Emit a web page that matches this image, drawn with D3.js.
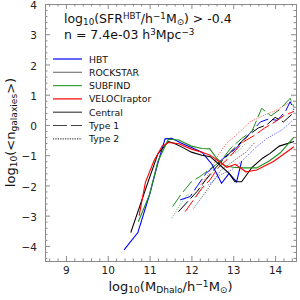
<!DOCTYPE html>
<html lang="en">
<head>
<meta charset="utf-8">
<script src="https://d3js.org/d3.v7.min.js"></script>
<title>HOD</title>
<style>
    body { margin: 0; background: white; }
    text { font-family: "DejaVu Sans", sans-serif; }
</style>
</head>
<body>
<div id="container"></div>
<script>
    // simulations and colours
    var sims = ["HBT", "ROCKSTAR", "SUBFIND", "VELOCIraptor"];
    var simColours = ["#0000ff", "#000000", "#1f8f1f", "#ff0000"];
    var legendColours = ["#0000ff", "#7a7a7a", "#3aa03a", "#ff0000"];
    var types = ["Central", "Type 1", "Type 2"];

    // centrals (solid)
    var hbtCenX = [10.39, 10.72, 11.0, 11.2, 11.37, 11.53, 11.75, 12.0, 12.25, 12.49, 12.72, 12.9, 13.08, 13.2];
    var hbtCenY = [-4.13, -3.56, -2.3, -1.25, -0.46, -0.44, -0.6, -0.75, -0.9, -1.3, -1.93, -1.6, -1.88, -1.2];
    var rockCenX = [10.55, 10.91, 11.2, 11.45, 11.57, 11.8, 12.0, 12.25, 12.45, 12.7, 12.9, 13.04, 13.2, 13.45, 13.7, 13.88, 14.1, 14.45];
    var rockCenY = [-3.56, -2.1, -0.95, -0.55, -0.6, -0.75, -0.9, -1.0, -1.05, -1.35, -1.6, -1.88, -1.88, -1.4, -1.1, -0.94, -0.7, -0.55];
    var subCenX = [10.73, 11.0, 11.2, 11.45, 11.7, 12.0, 12.25, 12.44, 12.6, 12.8, 13.0, 13.24, 13.56, 13.85, 14.12, 14.45];
    var subCenY = [-3.2, -2.3, -1.2, -0.47, -0.5, -0.7, -0.78, -0.79, -1.1, -1.35, -1.4, -1.42, -1.42, -1.2, -0.93, -0.4];
    var velCenX = [10.75, 10.9, 11.1, 11.3, 11.45, 11.7, 12.0, 12.25, 12.45, 12.65, 12.85, 13.05, 13.3, 13.56, 13.96, 14.12, 14.45];
    var velCenY = [-3.0, -1.9, -1.2, -0.7, -0.58, -0.62, -0.8, -0.9, -1.0, -1.2, -1.4, -1.3, -1.55, -1.49, -1.21, -1.05, -0.72];

    // type 1 satellites (dashed)
    var hbtT1X = [11.73, 11.97, 12.15, 12.35, 12.6, 12.85, 13.05, 13.25, 13.45, 13.65, 13.85, 14.05, 14.25, 14.36, 14.45];
    var hbtT1Y = [-2.48, -2.37, -2.0, -1.6, -1.3, -1.0, -0.8, -0.5, -0.2, 0.1, 0.2, 0.15, 0.45, 0.77, 0.5];
    var rockT1X = [11.69, 11.9, 12.13, 12.35, 12.6, 12.8, 13.0, 13.2, 13.4, 13.6, 13.8, 14.0, 14.2, 14.4];
    var rockT1Y = [-2.87, -2.55, -2.21, -1.8, -1.38, -1.1, -0.8, -0.55, -0.3, -0.1, 0.0, 0.25, 0.1, 0.35];
    var subT1X = [11.55, 11.75, 12.0, 12.2, 12.45, 12.7, 12.95, 13.2, 13.45, 13.68, 13.9, 14.1, 14.36, 14.45];
    var subT1Y = [-2.7, -2.3, -1.88, -1.71, -1.45, -1.2, -0.75, -0.45, -0.2, 0.55, 0.3, 0.5, 0.88, 0.6];
    var velT1X = [11.85, 12.05, 12.25, 12.44, 12.65, 12.85, 13.05, 13.25, 13.5, 13.75, 14.0, 14.2, 14.45];
    var velT1Y = [-2.87, -2.48, -2.1, -1.82, -1.4, -1.15, -0.85, -0.55, -0.35, -0.1, 0.1, 0.3, 0.45];

    // type 2 satellites (dotted)
    var hbtT2X = [12.4, 12.68, 12.96, 13.2, 13.56, 13.8, 14.16, 14.3, 14.45];
    var hbtT2Y = [-1.99, -1.65, -1.49, -1.2, -0.72, -0.45, -0.17, 0.0, 0.2];
    var rockT2X = [12.05, 12.32, 12.5, 12.7, 12.9, 13.1, 13.3, 13.5];
    var rockT2Y = [-2.76, -2.26, -1.9, -1.5, -1.3, -1.1, -0.9, -0.6];
    var subT2X = [11.53, 11.7, 11.9, 12.1, 12.3, 12.5, 12.7, 12.9, 13.1, 13.3];
    var subT2Y = [-3.09, -2.7, -2.3, -2.4, -1.9, -1.6, -1.2, -1.0, -0.9, -0.6];
    var velT2X = [12.2, 12.4, 12.64, 12.84, 13.1, 13.4, 13.7, 14.04, 14.3, 14.45];
    var velT2Y = [-2.0, -1.65, -1.0, -0.61, -0.3, 0.1, 0.3, 0.49, 0.7, 0.8];

    var xTicks = [9, 10, 11, 12, 13, 14];
    var yTicks = [-4, -3, -2, -1, 0, 1, 2, 3, 4];

    var series = [
        {sim: 0, type: 0, x: hbtCenX, y: hbtCenY},
        {sim: 1, type: 0, x: rockCenX, y: rockCenY},
        {sim: 2, type: 0, x: subCenX, y: subCenY},
        {sim: 3, type: 0, x: velCenX, y: velCenY},
        {sim: 0, type: 1, x: hbtT1X, y: hbtT1Y},
        {sim: 1, type: 1, x: rockT1X, y: rockT1Y},
        {sim: 2, type: 1, x: subT1X, y: subT1Y},
        {sim: 3, type: 1, x: velT1X, y: velT1Y},
        {sim: 0, type: 2, x: hbtT2X, y: hbtT2Y},
        {sim: 1, type: 2, x: rockT2X, y: rockT2Y},
        {sim: 2, type: 2, x: subT2X, y: subT2Y},
        {sim: 3, type: 2, x: velT2X, y: velT2Y}
    ];

    var dashes = [null, "14,4", "1.2,1.2"];
    var widths = [1.1, 1.0, 1.0];
    var opac = [1, 1, 0.6];

    var W = 300, H = 300;
    var pL = 45, pR = 296, pT = 4, pB = 261;

    var svg = d3.select("#container").append("svg")
        .attr("width", W).attr("height", H);

    var x = d3.scaleLinear().domain([8.5, 14.5]).range([pL, pR]);
    var y = d3.scaleLinear().domain([-4.5, 4]).range([pB, pT]);

    svg.append("clipPath").attr("id", "clip")
        .append("rect").attr("x", pL).attr("y", pT)
        .attr("width", pR - pL).attr("height", pB - pT);

    var line = d3.line()
        .x(function(d) { return x(d[0]); })
        .y(function(d) { return y(d[1]); });

    var plot = svg.append("g").attr("clip-path", "url(#clip)");
    // satellites under centrals, dotted lowest
    [2, 1, 0].forEach(function(t) {
        series.filter(function(s) { return s.type == t; }).forEach(function(s) {
            plot.append("path")
                .datum(d3.zip(s.x, s.y))
                .attr("d", line)
                .attr("fill", "none")
                .attr("stroke", simColours[s.sim])
                .attr("stroke-width", widths[t])
                .attr("stroke-opacity", opac[t])
                .attr("stroke-dasharray", dashes[t]);
        });
    });

    // axes with inward ticks
    var frame = "#8a8a8a";
    var minorX = d3.range(8.6, 14.5, 0.2).filter(function(v) { return Math.abs(v - Math.round(v)) > 0.01; });
    var minorY = d3.range(-4.4, 4, 0.2).filter(function(v) { return Math.abs(v - Math.round(v)) > 0.01; });

    function drawAxis(axisFn, scale, transform, major, minor, labels, pad) {
        var gMinor = svg.append("g").attr("transform", transform)
            .call(axisFn(scale).tickValues(minor).tickFormat("").tickSizeInner(-2.5).tickSizeOuter(0));
        var g = svg.append("g").attr("transform", transform)
            .call(axisFn(scale).tickValues(major).tickSizeInner(-5).tickSizeOuter(0).tickPadding(pad)
                .tickFormat(labels ? function(d) { return d < 0 ? "\u2212" + Math.abs(d) : d; } : ""));
        [g, gMinor].forEach(function(a) {
            a.selectAll("line").attr("stroke", frame);
            a.select(".domain").attr("stroke", frame);
        });
        g.selectAll("text").attr("font-size", 10.5).attr("fill", "#222")
            .style("font-family", "DejaVu Sans");
        return g;
    }
    drawAxis(d3.axisBottom, x, "translate(0," + pB + ")", xTicks, minorX, true, 6);
    drawAxis(d3.axisTop, x, "translate(0," + pT + ")", xTicks, minorX, false, 6);
    var gy = drawAxis(d3.axisLeft, y, "translate(" + pL + ",0)", yTicks, minorY, true, 8);
    gy.selectAll("text").attr("dy", "0.45em");
    drawAxis(d3.axisRight, y, "translate(" + pR + ",0)", yTicks, minorY, false, 8);

    // rich text helper: parts are [text, "n"|"sub"|"sup"]
    function rich(sel, parts, size) {
        parts.forEach(function(p) {
            var sh = p[1] == "sub" ? -0.25 : p[1] == "sup" ? 0.4 : 0;
            var ts = sel.append("tspan").text(p[0]);
            if (p[1] != "n") {
                ts.attr("font-size", size * 0.7).attr("baseline-shift", (sh * 100) + "%");
            }
        });
    }

    var t1 = svg.append("text").attr("x", 64).attr("y", 23).attr("font-size", 12.5).attr("fill", "#111");
    rich(t1, [["log", "n"], ["10", "sub"], ["(SFR", "n"], ["HBT", "sup"], ["/h", "n"], ["\u22121", "sup"],
        ["M", "n"], ["\u2299", "sub"], [") > -0.4", "n"]], 12.5);
    var t2 = svg.append("text").attr("x", 64).attr("y", 39).attr("font-size", 12.5).attr("fill", "#111");
    rich(t2, [["n = 7.4e-03 h", "n"], ["3", "sup"], ["Mpc", "n"], ["\u22123", "sup"]], 12.5);

    // legend
    var legendItems = sims.map(function(s, i) { return {label: s, colour: legendColours[i], dash: null}; })
        .concat(types.map(function(t, i) { return {label: t, colour: "#444", dash: dashes[i]}; }));
    var lg = svg.append("g");
    legendItems.forEach(function(d, i) {
        var yy = 59 + i * 13.3;
        lg.append("line").attr("x1", 53).attr("x2", 82).attr("y1", yy).attr("y2", yy)
            .attr("stroke", d.colour).attr("stroke-width", 1.2)
            .attr("stroke-dasharray", d.dash);
        lg.append("text").attr("x", 89).attr("y", yy + 3.5).attr("font-size", 9.3)
            .attr("fill", "#111").text(d.label);
    });

    // axis labels
    var xl = svg.append("text").attr("x", (pL + pR) / 2).attr("y", 291)
        .attr("text-anchor", "middle").attr("font-size", 13).attr("fill", "#111");
    rich(xl, [["log", "n"], ["10", "sub"], ["(M", "n"], ["Dhalo", "sub"], ["/h", "n"], ["\u22121", "sup"],
        ["M", "n"], ["\u2299", "sub"], [")", "n"]], 13);
    var yl = svg.append("text").attr("transform", "translate(15," + (pT + pB) / 2 + ") rotate(-90)")
        .attr("text-anchor", "middle").attr("font-size", 13).attr("fill", "#111");
    rich(yl, [["log", "n"], ["10", "sub"], ["(<n", "n"], ["galaxies", "sub"], [">)", "n"]], 13);
</script>
</body>
</html>
